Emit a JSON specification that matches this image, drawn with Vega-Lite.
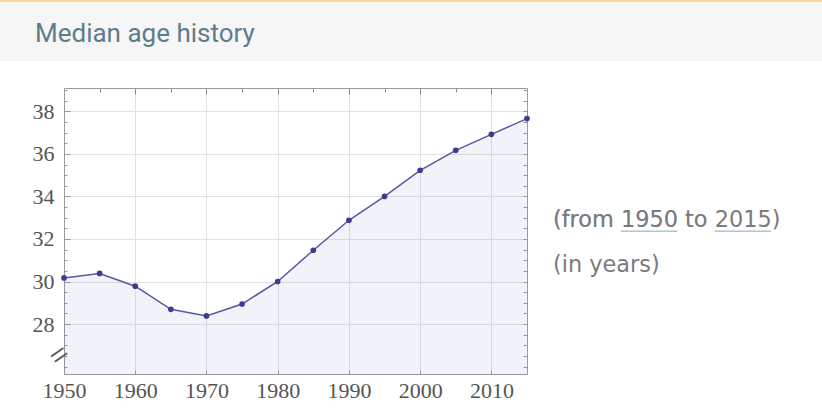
{
  "$schema": "https://vega.github.io/schema/vega-lite/v6.json",
  "padding": 0,
  "background": "white",
  "bounds": "flush",
  "spacing": 0,
  "config": {"view": {"stroke": null}},
  "vconcat": [
    {
      "width": 822, "height": 2,
      "view": {"fill": "#f8d68e", "stroke": null},
      "data": {"values": [{"t": ""}]},
      "mark": {"type": "text", "baseline": "top", "fontSize": 1},
      "encoding": {"text": {"field": "t"}}
    },
    {
      "width": 822, "height": 59,
      "view": {"fill": "#f6f6f6", "stroke": null},
      "data": {"values": [{"t": "Median age history"}]},
      "mark": {"type": "text", "align": "left", "baseline": "alphabetic", "dx": 35, "dy": 10, "font": "Roboto", "fontSize": 26, "fontWeight": "normal", "color": "#5f7c8b"},
      "encoding": {
        "text": {"field": "t"},
        "x": {"datum": 0, "type": "quantitative", "scale": {"domain": [0, 1]}, "axis": null}
      }
    },
    {
      "width": 822, "height": 27,
      "data": {"values": [{"t": ""}]},
      "mark": {"type": "text", "baseline": "top", "fontSize": 1},
      "encoding": {"text": {"field": "t"}}
    },
    {
      "bounds": "flush",
      "spacing": 0,
      "hconcat": [
        {
          "width": 64, "height": 286,
          "data": {"values": [{"t": ""}]},
          "mark": {"type": "text", "baseline": "top", "fontSize": 1},
          "encoding": {"text": {"field": "t"}}
        },
        {
          "width": 463, "height": 286,
          "data": {"values": [
            {"year": 1950, "age": 30.17},
            {"year": 1955, "age": 30.38},
            {"year": 1960, "age": 29.78},
            {"year": 1965, "age": 28.69},
            {"year": 1970, "age": 28.38},
            {"year": 1975, "age": 28.94},
            {"year": 1980, "age": 30.0},
            {"year": 1985, "age": 31.47},
            {"year": 1990, "age": 32.88},
            {"year": 1995, "age": 34.0},
            {"year": 2000, "age": 35.23},
            {"year": 2005, "age": 36.17},
            {"year": 2010, "age": 36.92},
            {"year": 2015, "age": 37.66}
          ]},
          "layer": [
            {
              "mark": {"type": "area", "color": "#5a5ab0", "opacity": 0.08},
              "encoding": {
                "x": {"field": "year", "type": "quantitative",
                  "scale": {"domain": [1950, 2015], "nice": false, "zero": false},
                  "axis": {"title": null, "values": [1950, 1960, 1970, 1980, 1990, 2000, 2010], "format": "d",
                    "grid": true, "gridColor": "#e2e2e2", "gridWidth": 1,
                    "domainColor": "#9a9a9a", "tickColor": "#9a9a9a", "tickSize": -4,
                    "labelFont": "Liberation Serif", "labelFontSize": 22, "labelColor": "#555555", "labelPadding": 10, "labelFlush": false}},
                "y": {"field": "age", "type": "quantitative",
                  "scale": {"domain": [25.65, 39.1], "nice": false, "zero": false},
                  "axis": {"title": null, "values": [28, 30, 32, 34, 36, 38],
                    "grid": true, "gridColor": "#e2e2e2", "gridWidth": 1,
                    "domainColor": "#9a9a9a", "tickColor": "#9a9a9a", "tickSize": -6,
                    "labelFont": "Liberation Serif", "labelFontSize": 22, "labelColor": "#555555", "labelPadding": 16}},
                "y2": {"datum": 25.65}
              }
            },
            {
              "mark": {"type": "line", "color": "#5757a6", "strokeWidth": 1.5},
              "encoding": {
                "x": {"field": "year", "type": "quantitative",
                  "axis": {"orient": "top", "title": null, "labels": false, "grid": false,
                    "values": [1955, 1960, 1965, 1970, 1975, 1980, 1985, 1990, 1995, 2000, 2005, 2010],
                    "domainColor": "#9a9a9a", "tickColor": "#8a8a8a",
                    "tickSize": {"condition": {"test": "datum.value % 10 == 0", "value": -6}, "value": -4}}},
                "y": {"field": "age", "type": "quantitative",
                  "axis": {"orient": "right", "title": null, "labels": false, "grid": false,
                    "values": [26, 26.5, 27, 27.5, 28, 28.5, 29, 29.5, 30, 30.5, 31, 31.5, 32, 32.5, 33, 33.5, 34, 34.5, 35, 35.5, 36, 36.5, 37, 37.5, 38, 38.5, 39],
                    "domainColor": "#9a9a9a", "tickColor": "#9a9a9a", "tickSize": -4}}
              }
            },
            {
              "mark": {"type": "point", "filled": true, "color": "#3b3b8f", "size": 32, "opacity": 1},
              "encoding": {
                "x": {"field": "year", "type": "quantitative", "axis": null},
                "y": {"field": "age", "type": "quantitative",
                  "axis": {"orient": "left", "title": null, "grid": false, "domain": false,
                    "values": [26, 26.5, 26.55, 27, 27.5, 28.5, 29, 29.5, 30.5, 31, 31.5, 32.5, 33, 33.5, 34.5, 35, 35.5, 36.5, 37, 37.5, 38.5, 39],
                    "labelExpr": "datum.value == 26.55 ? '=' : ''",
                    "labelOverlap": false, "labelBound": false,
                    "labelFont": "Liberation Serif", "labelFontSize": 32, "labelColor": "#555555",
                    "labelAngle": -35, "labelAlign": "center", "labelBaseline": "middle", "labelPadding": 8,
                    "tickColor": "#9a9a9a", "tickSize": -3,
                    "tickOpacity": {"condition": {"test": "datum.value == 26.55", "value": 0}, "value": 1}}}
              }
            }
          ],
          "resolve": {"axis": {"x": "independent", "y": "independent"}}
        },
        {
          "width": 295, "height": 286,
          "data": {"values": [
            {"t": "(from 1950 to 2015)", "u1": "(from _____", "u2": "(from 1950 to _____", "r": 1},
            {"t": "(in years)", "u1": "", "u2": "", "r": 2}
          ]},
          "encoding": {
            "x": {"datum": 0, "type": "quantitative", "scale": {"domain": [0, 1]}, "axis": null},
            "y": {"field": "r", "type": "ordinal", "scale": {"type": "point", "domain": [1, 2], "range": [139, 184], "padding": 0}, "axis": null}
          },
          "layer": [
            {
              "mark": {"type": "text", "align": "left", "baseline": "alphabetic", "dx": 26, "font": "DejaVu Sans", "fontSize": 22.4, "color": "#b3c6d4"},
              "encoding": {"text": {"field": "u1"}}
            },
            {
              "mark": {"type": "text", "align": "left", "baseline": "alphabetic", "dx": 26, "font": "DejaVu Sans", "fontSize": 22.4, "color": "#b3c6d4"},
              "encoding": {"text": {"field": "u2"}}
            },
            {
              "mark": {"type": "text", "align": "left", "baseline": "alphabetic", "dx": 26, "font": "DejaVu Sans", "fontSize": 22.4, "color": "#7b7b7b"},
              "encoding": {"text": {"field": "t"}}
            }
          ]
        }
      ]
    }
  ]
}
